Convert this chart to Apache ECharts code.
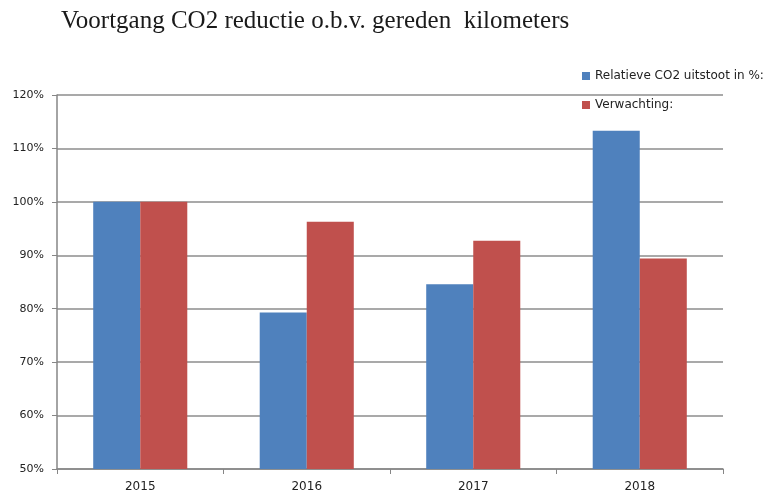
<!DOCTYPE html>
<html>
<head>
<meta charset="utf-8">
<script src="https://cdn.jsdelivr.net/npm/echarts@6/dist/echarts.min.js"></script>
<style>html,body{margin:0;padding:0;background:#fff;}#c{width:767px;height:496px;}</style>
</head>
<body>
<div id="c"></div>
<script>
const categories = ['2015', '2016', '2017', '2018'];
const relatieveUitstoot = [100, 79.3, 84.6, 113.3];
const verwachting = [100, 96.3, 92.7, 89.4];
const seriesNames = ['Relatieve CO2 uitstoot in %:', 'Verwachting:'];
const titleText = 'Voortgang CO2 reductie o.b.v. gereden  kilometers';

const chart = echarts.init(document.getElementById('c'), null, {renderer: 'canvas'});
chart.setOption({
  animation: false,
  backgroundColor: '#fff',
  title: {
    text: titleText,
    left: 61, top: 9, padding: 0,
    textStyle: {fontFamily: 'Liberation Serif', fontSize: 25, fontWeight: 'normal', color: '#1a1a1a'}
  },
  legend: {
    orient: 'vertical',
    left: 582, top: 70, padding: 0,
    itemWidth: 8, itemHeight: 8, itemGap: 17,
    icon: 'rect',
    textStyle: {fontFamily: 'DejaVu Sans', fontSize: 12, color: '#222', padding: [0,0,0,0]},
    data: seriesNames
  },
  grid: {left: 57, right: 44, top: 95, bottom: 27, containLabel: false},
  xAxis: {
    type: 'category',
    data: categories,
    axisLine: {lineStyle: {color: '#868686', width: 1.5}},
    axisTick: {show: true, length: 5, lineStyle: {color: '#868686'}},
    axisLabel: {fontFamily: 'DejaVu Sans', fontSize: 12, color: '#222', margin: 12}
  },
  yAxis: {
    type: 'value',
    min: 50, max: 120, interval: 10,
    axisLine: {show: true, lineStyle: {color: '#868686', width: 1.5}},
    axisTick: {show: true, length: 5, lineStyle: {color: '#868686'}},
    splitLine: {lineStyle: {color: '#8c8c8c', width: 1.5}},
    axisLabel: {formatter: '{value}%', fontFamily: 'DejaVu Sans', fontSize: 11, color: '#222', margin: 13}
  },
  series: [
    {name: seriesNames[0], type: 'bar', data: relatieveUitstoot, barGap: '0%', barCategoryGap: '43.5%',
     itemStyle: {color: '#4F81BD'}},
    {name: seriesNames[1], type: 'bar', data: verwachting, barGap: '0%', barCategoryGap: '43.5%',
     itemStyle: {color: '#C0504D'}}
  ]
});
</script>
</body>
</html>
